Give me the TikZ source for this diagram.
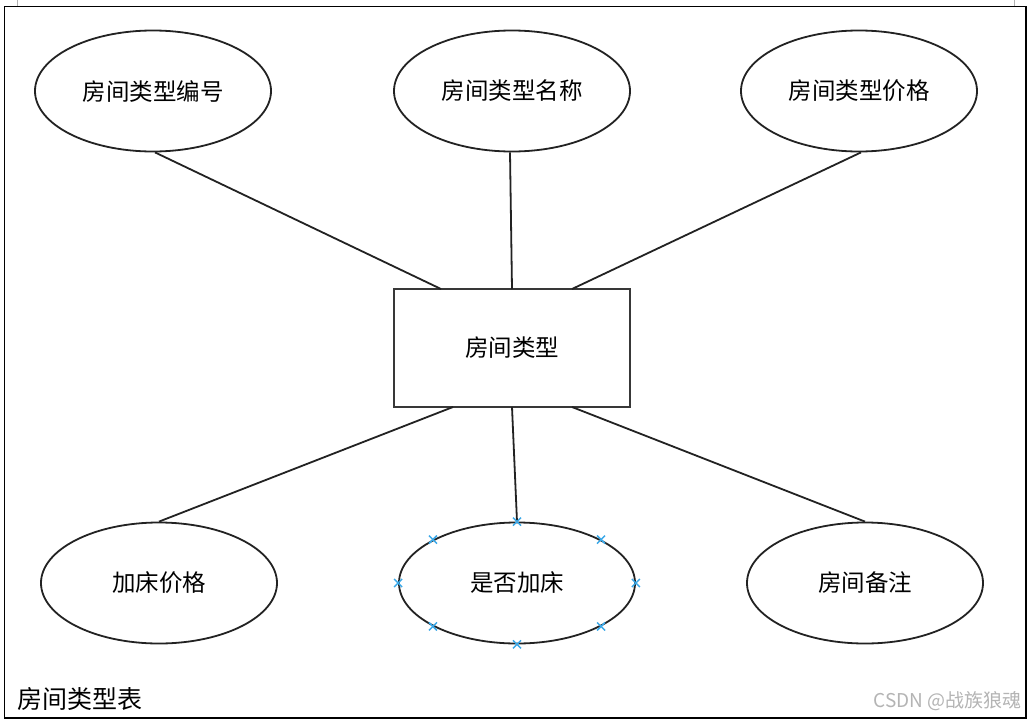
\documentclass[tikz,border=0pt]{standalone}
\usepackage{fontspec}
\newfontfamily\cjk{Noto Sans CJK SC}
\usetikzlibrary{shapes.geometric,calc}
\definecolor{edgegray}{HTML}{222222}
\definecolor{markblue}{HTML}{3AA8E8}
\definecolor{wmgray}{HTML}{B4B4B4}
\tikzset{
  attr/.style={ellipse, draw=edgegray, line width=1.8pt, minimum width=236pt, minimum height=121pt, inner sep=0pt, font=\cjk\fontsize{23.5}{23.5}\selectfont},
  entity/.style={rectangle, draw=edgegray!90, line width=2pt, minimum width=236pt, minimum height=118pt, inner sep=0pt, font=\cjk\fontsize{23.5}{23.5}\selectfont},
  link/.style={draw=edgegray, line width=1.8pt},
  xmark/.style={draw=markblue, line width=1.5pt}
}
\newcommand{\xm}[1]{\draw[xmark] ($(#1)+(-4,-4)$) -- ($(#1)+(4,4)$) ($(#1)+(-4,4)$) -- ($(#1)+(4,-4)$);}
\begin{document}
\begin{tikzpicture}[x=1pt,y=-1pt]
\useasboundingbox (0,0) rectangle (1028,720);
\fill[white] (0,0) rectangle (1028,720);
% frame
\draw[black, line width=1.3pt] (4.5,6.5) rectangle (1026,718);
\draw[gray!60, line width=0.8pt] (17,0) -- (17,6);
\draw[gray!60, line width=0.8pt] (1014,0) -- (1014,6);
% nodes
\node[attr] (a1) at (153,91) {房间类型编号};
\node[attr] (a2) at (512,91) {房间类型名称};
\node[attr] (a3) at (859,91) {房间类型价格};
\node[entity] (e) at (512,348) {房间类型};
\node[attr] (b1) at (159,583) {加床价格};
\node[attr] (b2) at (517,583) {是否加床};
\node[attr] (b3) at (865,583) {房间备注};
% connectors
\coordinate (et1) at (441,289);
\coordinate (et2) at (512,289);
\coordinate (et3) at (572,289);
\coordinate (eb1) at (453,407);
\coordinate (eb2) at (512,407);
\coordinate (eb3) at (572,407);
\draw[link] ($(a1.south)+(2,0)$) -- (et1);
\draw[link] ($(a2.south)+(-2,0)$) -- (et2);
\draw[link] ($(a3.south)+(2,0)$) -- (et3);
\draw[link] (eb1) -- (b1.north);
\draw[link] (eb2) -- (b2.north);
\draw[link] (eb3) -- (b3.north);
% selection markers
\foreach \p in {north,south,east,west,north east,north west,south east,south west}{
  \xm{b2.\p}
}
% captions
\node[anchor=west, inner sep=0pt, font=\cjk\fontsize{25}{25}\selectfont] (cap) at (17,699) {房间类型表};
\node[anchor=east, inner sep=0pt, text=wmgray, font=\cjk\fontsize{19}{19}\selectfont] (wm) at (1022,701) {CSDN @战族狼魂};
\end{tikzpicture}
\end{document}
